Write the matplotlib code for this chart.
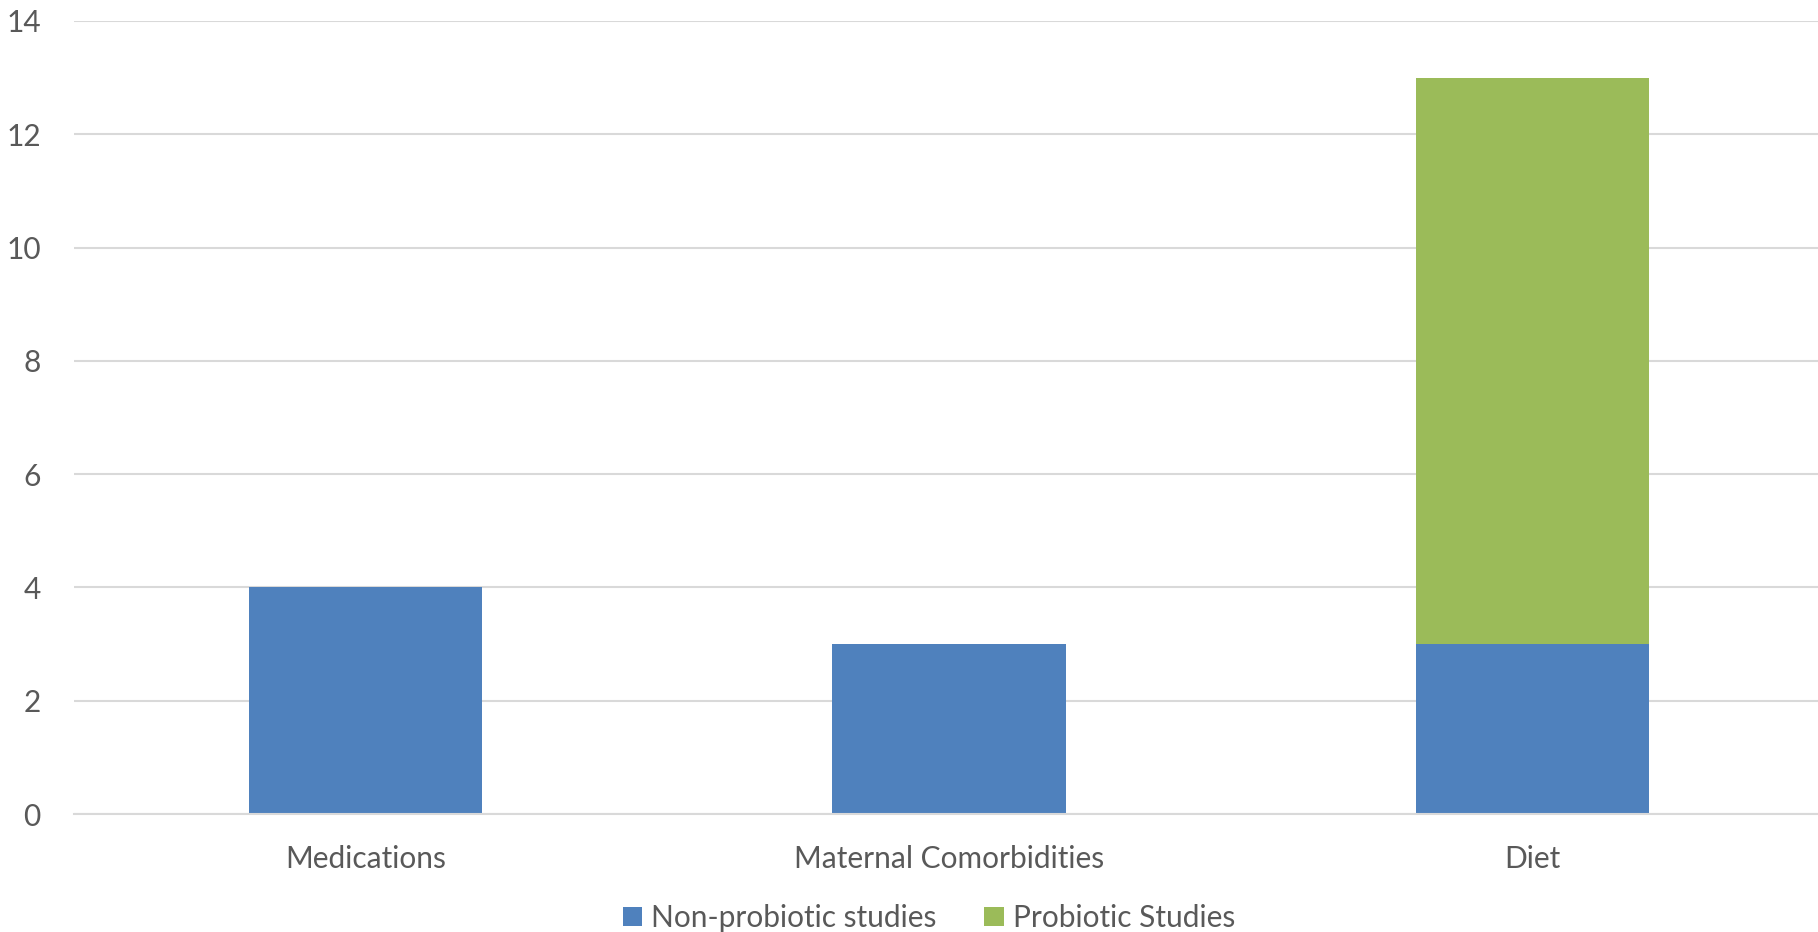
import matplotlib
matplotlib.use("Agg")
import matplotlib.pyplot as plt
import numpy as np

# data
categories = ["Medications", "Maternal Comorbidities", "Diet"]
non_probiotic = [4, 3, 3]
probiotic = [0, 0, 10]
series_names = ["Non-probiotic studies", "Probiotic Studies"]
y_ticks = [0, 2, 4, 6, 8, 10, 12, 14]

BLUE = "#4F81BD"
GREEN = "#9BBB59"
TEXT = "#595959"
GRID = "#D9D9D9"

plt.rcParams["font.family"] = ["Lato", "DejaVu Sans"]

fig = plt.figure(figsize=(18.18, 9.32), dpi=100)
ax = fig.add_axes([74 / 1818, 1 - 814 / 932, 1750 / 1818, (814 - 21) / 932])

x = np.arange(len(categories))
ax.bar(x, non_probiotic, width=0.4, color=BLUE, label=series_names[0], zorder=2)
ax.bar(x, probiotic, width=0.4, bottom=non_probiotic, color=GREEN,
       label=series_names[1], zorder=2)

ax.set_xlim(-0.5, len(categories) - 0.5)
ax.set_ylim(0, 14)
ax.set_yticks(y_ticks)
ax.set_xticks(x)
ax.set_xticklabels(categories)
ax.grid(axis="y", color=GRID, linewidth=1.5, zorder=0)
ax.set_axisbelow(True)

for s in ["top", "right", "left"]:
    ax.spines[s].set_visible(False)
ax.spines["bottom"].set_color(GRID)
ax.spines["bottom"].set_linewidth(1.5)

ax.tick_params(axis="both", length=0, labelsize=21.5, labelcolor=TEXT)
ax.tick_params(axis="x", pad=22)
ax.tick_params(axis="y", pad=24)

leg = fig.legend(loc="center", bbox_to_anchor=(929 / 1818, 1 - 918 / 932), ncol=2,
                 frameon=False, fontsize=21.5, handlelength=0.65, handleheight=0.65,
                 handletextpad=0.3, columnspacing=1.6)
for t in leg.get_texts():
    t.set_color(TEXT)

fig.savefig("out.png", dpi=100)
